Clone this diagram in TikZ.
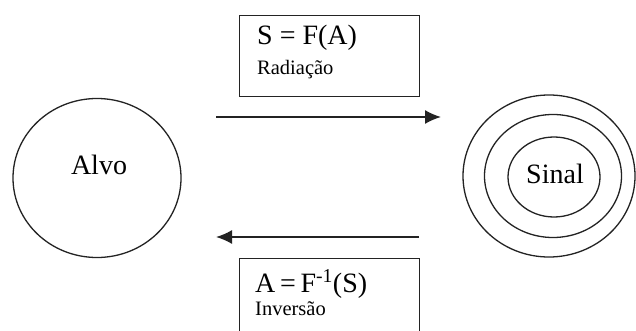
\documentclass[tikz,border=0pt]{standalone}
\usepackage{fontspec}
\setmainfont{Liberation Serif}
\usetikzlibrary{positioning,arrows.meta,shapes.geometric}
\usepackage{xcolor}
\definecolor{inkgray}{RGB}{35,35,35}

\begin{document}
\begin{tikzpicture}[x=1pt,y=-1pt,
    ring/.style={draw=inkgray,line width=1.3pt,ellipse,inner sep=0pt},
    formbox/.style={draw=inkgray,line width=1.3pt,anchor=north west,
                    minimum width=180pt,inner sep=0pt},
    bigtext/.style={font=\fontsize{28}{28}\selectfont,inner sep=0pt},
    smalltext/.style={font=\fontsize{20.5}{20.5}\selectfont,inner sep=0pt,anchor=base west},
    flow/.style={draw=inkgray,line width=1.6pt,-{Latex[length=16pt,width=14pt]}}]
    \clip (0,0) rectangle (636,331);
    \fill[white] (0,0) rectangle (636,331);

    % target and signal
    \node[ring,minimum width=168pt,minimum height=159pt] (alvo) at (97,178) {};
    \node[bigtext,anchor=base] (alvotext) at (99,174) {Alvo};
    \node[ring,minimum width=172pt,minimum height=162pt] (outerring) at (549,176) {};
    \node[ring,minimum width=137pt,minimum height=123pt] (midring) at (553,176) {};
    \node[ring,minimum width=92pt,minimum height=80pt] (sinal) at (554,177) {};
    \node[bigtext,anchor=base] (sinaltext) at (555,183) {Sinal};

    % forward model
    \node[formbox,minimum height=81pt] (fwdbox) at (239,15) {};
    \node[bigtext,anchor=base west] (fwdeq) at (257,45) {S = F(A)};
    \node[smalltext] (fwdlabel) at (257,75) {Radiação};
    \coordinate (fwdstart) at (216,117);
    \coordinate (fwdend) at (441,117);
    \draw[flow] (fwdstart) -- (fwdend);

    % inversion
    \coordinate (invstart) at (419,237);
    \coordinate (invend) at (216,237);
    \draw[flow] (invstart) -- (invend);
    \node[formbox,minimum height=90pt] (invbox) at (239,258) {};
    \node[bigtext,anchor=base west] (inveq) at (255,292) {A\,=\,F\textsuperscript{-1}(S)};
    \node[smalltext] (invlabel) at (255,315) {Inversão};
\end{tikzpicture}
\end{document}
